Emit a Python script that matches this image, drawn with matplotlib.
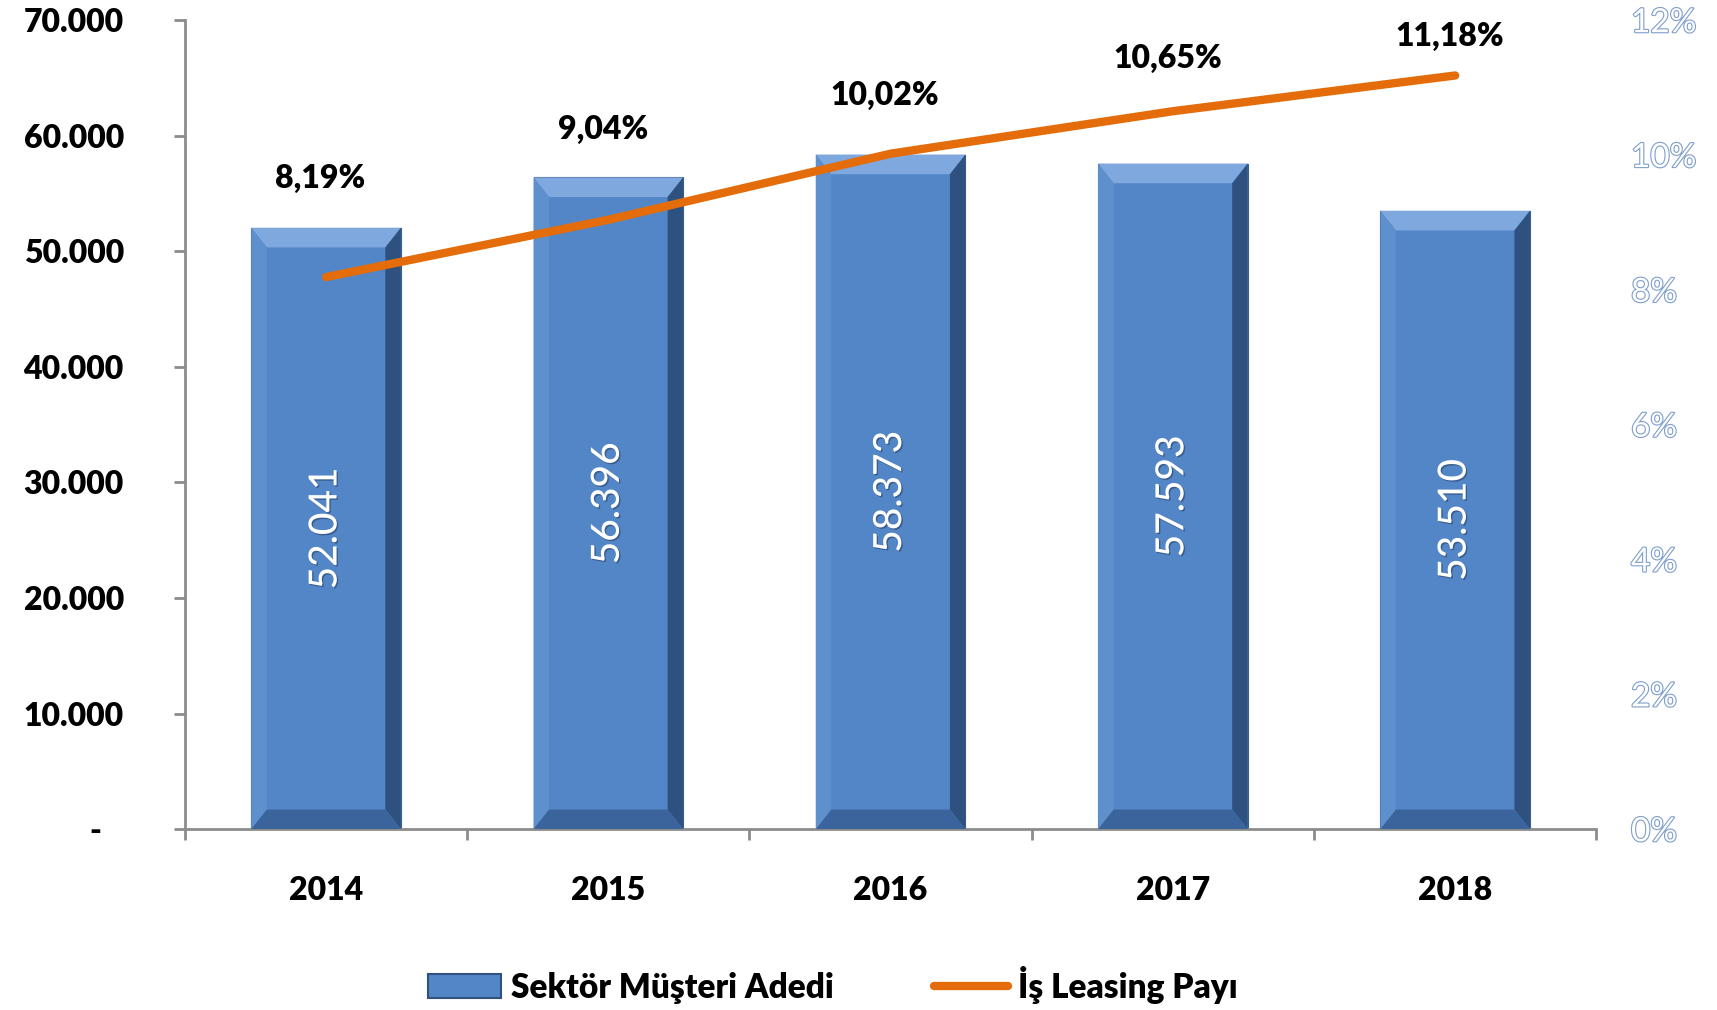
import matplotlib
matplotlib.use("Agg")
import matplotlib.pyplot as plt
import matplotlib.patheffects as pe
from matplotlib.patches import Patch, Polygon
from matplotlib.lines import Line2D
from matplotlib.ticker import FixedLocator

# data
years = ["2014", "2015", "2016", "2017", "2018"]
customers = [52041, 56396, 58373, 57593, 53510]
share = [8.19, 9.04, 10.02, 10.65, 11.18]
left_ticks = [0, 10000, 20000, 30000, 40000, 50000, 60000, 70000]
left_labels = ["-   ", "10.000", "20.000", "30.000", "40.000", "50.000", "60.000", "70.000"]
right_ticks = [0, 2, 4, 6, 8, 10, 12]
right_labels = ["0%", "2%", "4%", "6%", "8%", "10%", "12%"]

plt.rcParams["font.family"] = ["Lato", "DejaVu Sans"]

BLUE = "#5386C6"
ORANGE = "#E46C0A"
GREY = "#8C8C8C"
BOLD = "heavy"

fig = plt.figure(figsize=(17.17, 10.10), dpi=100)
ax = fig.add_axes([0.1077, 0.179, 0.822, 0.801])
x = list(range(len(years)))
bar_w = 0.53

bars = ax.bar(x, customers, width=bar_w, color=BLUE, edgecolor="#3A5F92",
              linewidth=0.8, zorder=2)

# soft bevel on each bar
bx, by = 0.055, 1700
for xi, v in zip(x, customers):
    l, r = xi - bar_w / 2, xi + bar_w / 2
    faces = [
        ([(l, v), (r, v), (r - bx, v - by), (l + bx, v - by)], "#7EA8DE"),
        ([(l, 0), (l, v), (l + bx, v - by), (l + bx, by)], "#5E90CE"),
        ([(r, 0), (r, v), (r - bx, v - by), (r - bx, by)], "#2F5180"),
        ([(l, 0), (r, 0), (r - bx, by), (l + bx, by)], "#3C649C"),
    ]
    for pts, c in faces:
        ax.add_patch(Polygon(pts, closed=True, facecolor=c, edgecolor="none", zorder=3))
    ax.text(xi, v / 2, f"{v:,}".replace(",", "."), rotation=90, ha="center", va="center",
            color="white", fontsize=28, fontweight="medium", zorder=5,
            path_effects=[pe.withSimplePatchShadow(offset=(1, -1), shadow_rgbFace="#1f3558", alpha=0.5)])

ax.set_xlim(-0.5, len(years) - 0.5)
ax.set_ylim(0, 70000)
ax.set_yticks(left_ticks)
ax.set_yticklabels(left_labels, fontsize=23, fontweight=BOLD)
ax.set_xticks(x)
ax.set_xticklabels(years, fontsize=23, fontweight=BOLD)
ax.xaxis.set_minor_locator(FixedLocator([i - 0.5 for i in range(len(years) + 1)]))
ax.tick_params(axis="x", which="major", length=0, pad=34)
ax.tick_params(axis="x", which="minor", length=8, width=2, color=GREY, direction="out")
ax.tick_params(axis="y", length=8, width=2, color=GREY, pad=36)
for s in ["top", "right"]:
    ax.spines[s].set_visible(False)
for s in ["left", "bottom"]:
    ax.spines[s].set_color(GREY)
    ax.spines[s].set_linewidth(2)

ax2 = ax.twinx()
ax2.set_ylim(0, 12)
ax2.set_yticks(right_ticks)
ax2.set_yticklabels(right_labels, fontsize=24, color="white")
for t in ax2.get_yticklabels():
    t.set_path_effects([pe.Stroke(linewidth=1.6, foreground="#7E9ECC"), pe.Normal()])
ax2.tick_params(axis="y", length=0, pad=25)
for s in ax2.spines.values():
    s.set_visible(False)

ax2.plot(x, share, color=ORANGE, lw=6, solid_capstyle="round", zorder=6)
label_offsets = [71, 65, 42, 38, 28]
for xi, v, off in zip(x, share, label_offsets):
    ax2.annotate(f"{v:.2f}%".replace(".", ","), (xi, v), xytext=(-4, off),
                 textcoords="offset points", ha="center", va="center",
                 fontsize=23, fontweight=BOLD, color="black")

handles = [
    Patch(facecolor=BLUE, edgecolor="#2F5283", linewidth=1.5),
    Line2D([0], [0], color=ORANGE, lw=6, solid_capstyle="round"),
]
fig.legend(handles, ["Sektör Müşteri Adedi", "İş Leasing Payı"], loc="center",
           bbox_to_anchor=(0.485, 0.025), ncol=2, frameon=False,
           prop={"size": 24, "weight": BOLD}, handlelength=2.2, handleheight=0.75,
           handletextpad=0.3, columnspacing=3.0)

fig.savefig("out.png", dpi=100)
